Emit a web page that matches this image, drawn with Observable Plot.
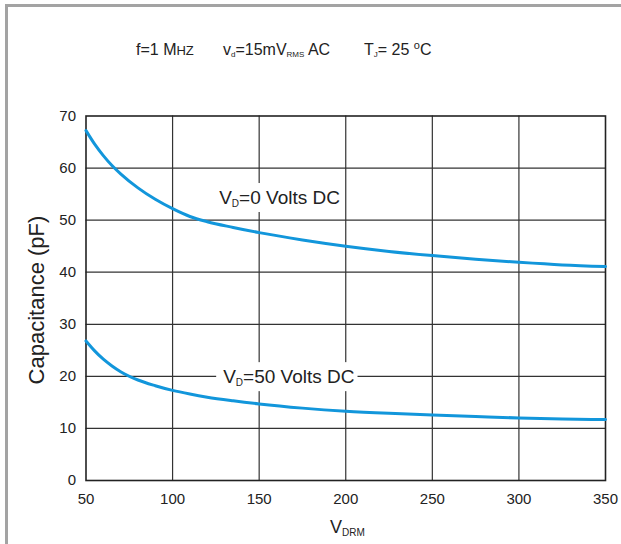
<!DOCTYPE html>
<html>
<head>
<meta charset="utf-8">
<script src="https://cdn.jsdelivr.net/npm/d3@7"></script>
<script src="https://cdn.jsdelivr.net/npm/@observablehq/plot@0.6"></script>
<style>
  html, body { margin: 0; padding: 0; background: #fff; }
  #wrap { position: relative; width: 621px; height: 544px; overflow: hidden; }
  #border { position: absolute; left: 5px; top: 4px; width: 700px; height: 600px;
            border: 3px solid #a3a3a3; box-sizing: border-box; }
  #chart { position: absolute; left: 0; top: 0; }
</style>
</head>
<body>
<div id="wrap"><div id="border"></div><div id="chart"></div></div>
<script>
// ---- data ----
const vdrm = [50, 55, 60, 65, 70, 80, 90, 100, 110, 120, 135, 150, 175, 200, 225, 250, 275, 300, 325, 350];
const capVd0  = [67.2, 64.6, 62.4, 60.5, 58.9, 56.2, 54.0, 52.2, 50.7, 49.7, 48.6, 47.6, 46.2, 45.0, 44.0, 43.2, 42.5, 41.9, 41.4, 41.1];
const capVd50 = [26.8, 24.9, 23.3, 22.0, 20.9, 19.3, 18.2, 17.3, 16.6, 16.0, 15.3, 14.7, 13.9, 13.3, 12.9, 12.6, 12.3, 12.0, 11.8, 11.7];
const seriesNames = ["VD=0", "VD=50"];
const xTicks = [50, 100, 150, 200, 250, 300, 350];
const yTicks = [0, 10, 20, 30, 40, 50, 60, 70];
const labelMain = ["=0 Volts DC", "=50 Volts DC"];
const labelX = [127.2, 129.5];
const labelY = [53.0, 18.6];

const data = [];
vdrm.forEach((v, i) => {
  data.push({series: seriesNames[0], x: v, y: capVd0[i]});
  data.push({series: seriesNames[1], x: v, y: capVd50[i]});
});

const FONT = "'Liberation Sans', Arial, Helvetica, sans-serif";

const chart = Plot.plot({
  width: 621, height: 544,
  marginLeft: 85.5, marginRight: 16, marginTop: 115.5, marginBottom: 64,
  x: {domain: [50, 350], ticks: xTicks},
  y: {domain: [0, 70], ticks: yTicks},
  style: {fontFamily: FONT, fontSize: "15px", color: "#222", background: "transparent", overflow: "visible"},
  marks: [
    Plot.ruleX(xTicks.slice(1, -1), {stroke: "#333", strokeWidth: 1.2}),
    Plot.ruleY(yTicks.slice(1, -1), {stroke: "#333", strokeWidth: 1.2}),
    Plot.frame({stroke: "#222", strokeWidth: 1.6}),
    Plot.axisX({ticks: xTicks, tickSize: 0, tickPadding: 13, label: null, fontSize: 15}),
    Plot.axisY({ticks: yTicks, tickSize: 0, tickPadding: 10, label: null, fontSize: 15}),
    Plot.line(data, {x: "x", y: "y", z: "series", stroke: "#1296db", strokeWidth: 3, curve: "monotone-x"})
  ]
});
document.getElementById("chart").appendChild(chart);

const svg = d3.select(chart);
const sx = chart.scale("x"), sy = chart.scale("y");

function txtEl(x, y, size) {
  return svg.append("text").attr("x", x).attr("y", y)
    .attr("text-anchor", "start").attr("font-family", FONT)
    .attr("font-size", size).attr("font-weight", "normal").attr("fill", "#222");
}

// curve labels with white background
labelMain.forEach((t, i) => {
  const txt = txtEl(sx.apply(labelX[i]), sy.apply(labelY[i]), 19);
  txt.append("tspan").text("V");
  txt.append("tspan").attr("font-size", 10).attr("dy", 3).text("D");
  txt.append("tspan").attr("dy", -3).text(t);
  const bb = txt.node().getBBox();
  svg.insert("rect", () => txt.node())
    .attr("x", bb.x - 7).attr("y", bb.y - 4)
    .attr("width", bb.width + 10).attr("height", bb.height + 7)
    .attr("fill", "#fff");
});

// title line
const title = txtEl(136, 55, 16);
title.append("tspan").text("f=1 M");
title.append("tspan").attr("font-size", 13).text("HZ");
const t2 = txtEl(223, 55, 16);
t2.append("tspan").text("v");
t2.append("tspan").attr("font-size", 8).attr("dy", 2).text("d");
t2.append("tspan").attr("dy", -2).text("=15mV");
t2.append("tspan").attr("font-size", 8).attr("dy", 2).text("RMS");
t2.append("tspan").attr("dy", -2).text(" AC");
const t3 = txtEl(364, 55, 16);
t3.append("tspan").text("T");
t3.append("tspan").attr("font-size", 8).attr("dy", 2).text("J");
t3.append("tspan").attr("dy", -2).text("= 25 ");
t3.append("tspan").attr("font-size", 11).attr("dy", -6).text("o");
t3.append("tspan").attr("dy", 6).text("C");

// axis titles
txtEl(0, 0, 22)
  .attr("transform", "translate(44,300) rotate(-90)")
  .attr("text-anchor", "middle")
  .text("Capacitance (pF)");
const xl = txtEl(330, 533, 18);
xl.append("tspan").text("V");
xl.append("tspan").attr("font-size", 10).attr("dy", 3).text("DRM");
</script>
</body>
</html>
